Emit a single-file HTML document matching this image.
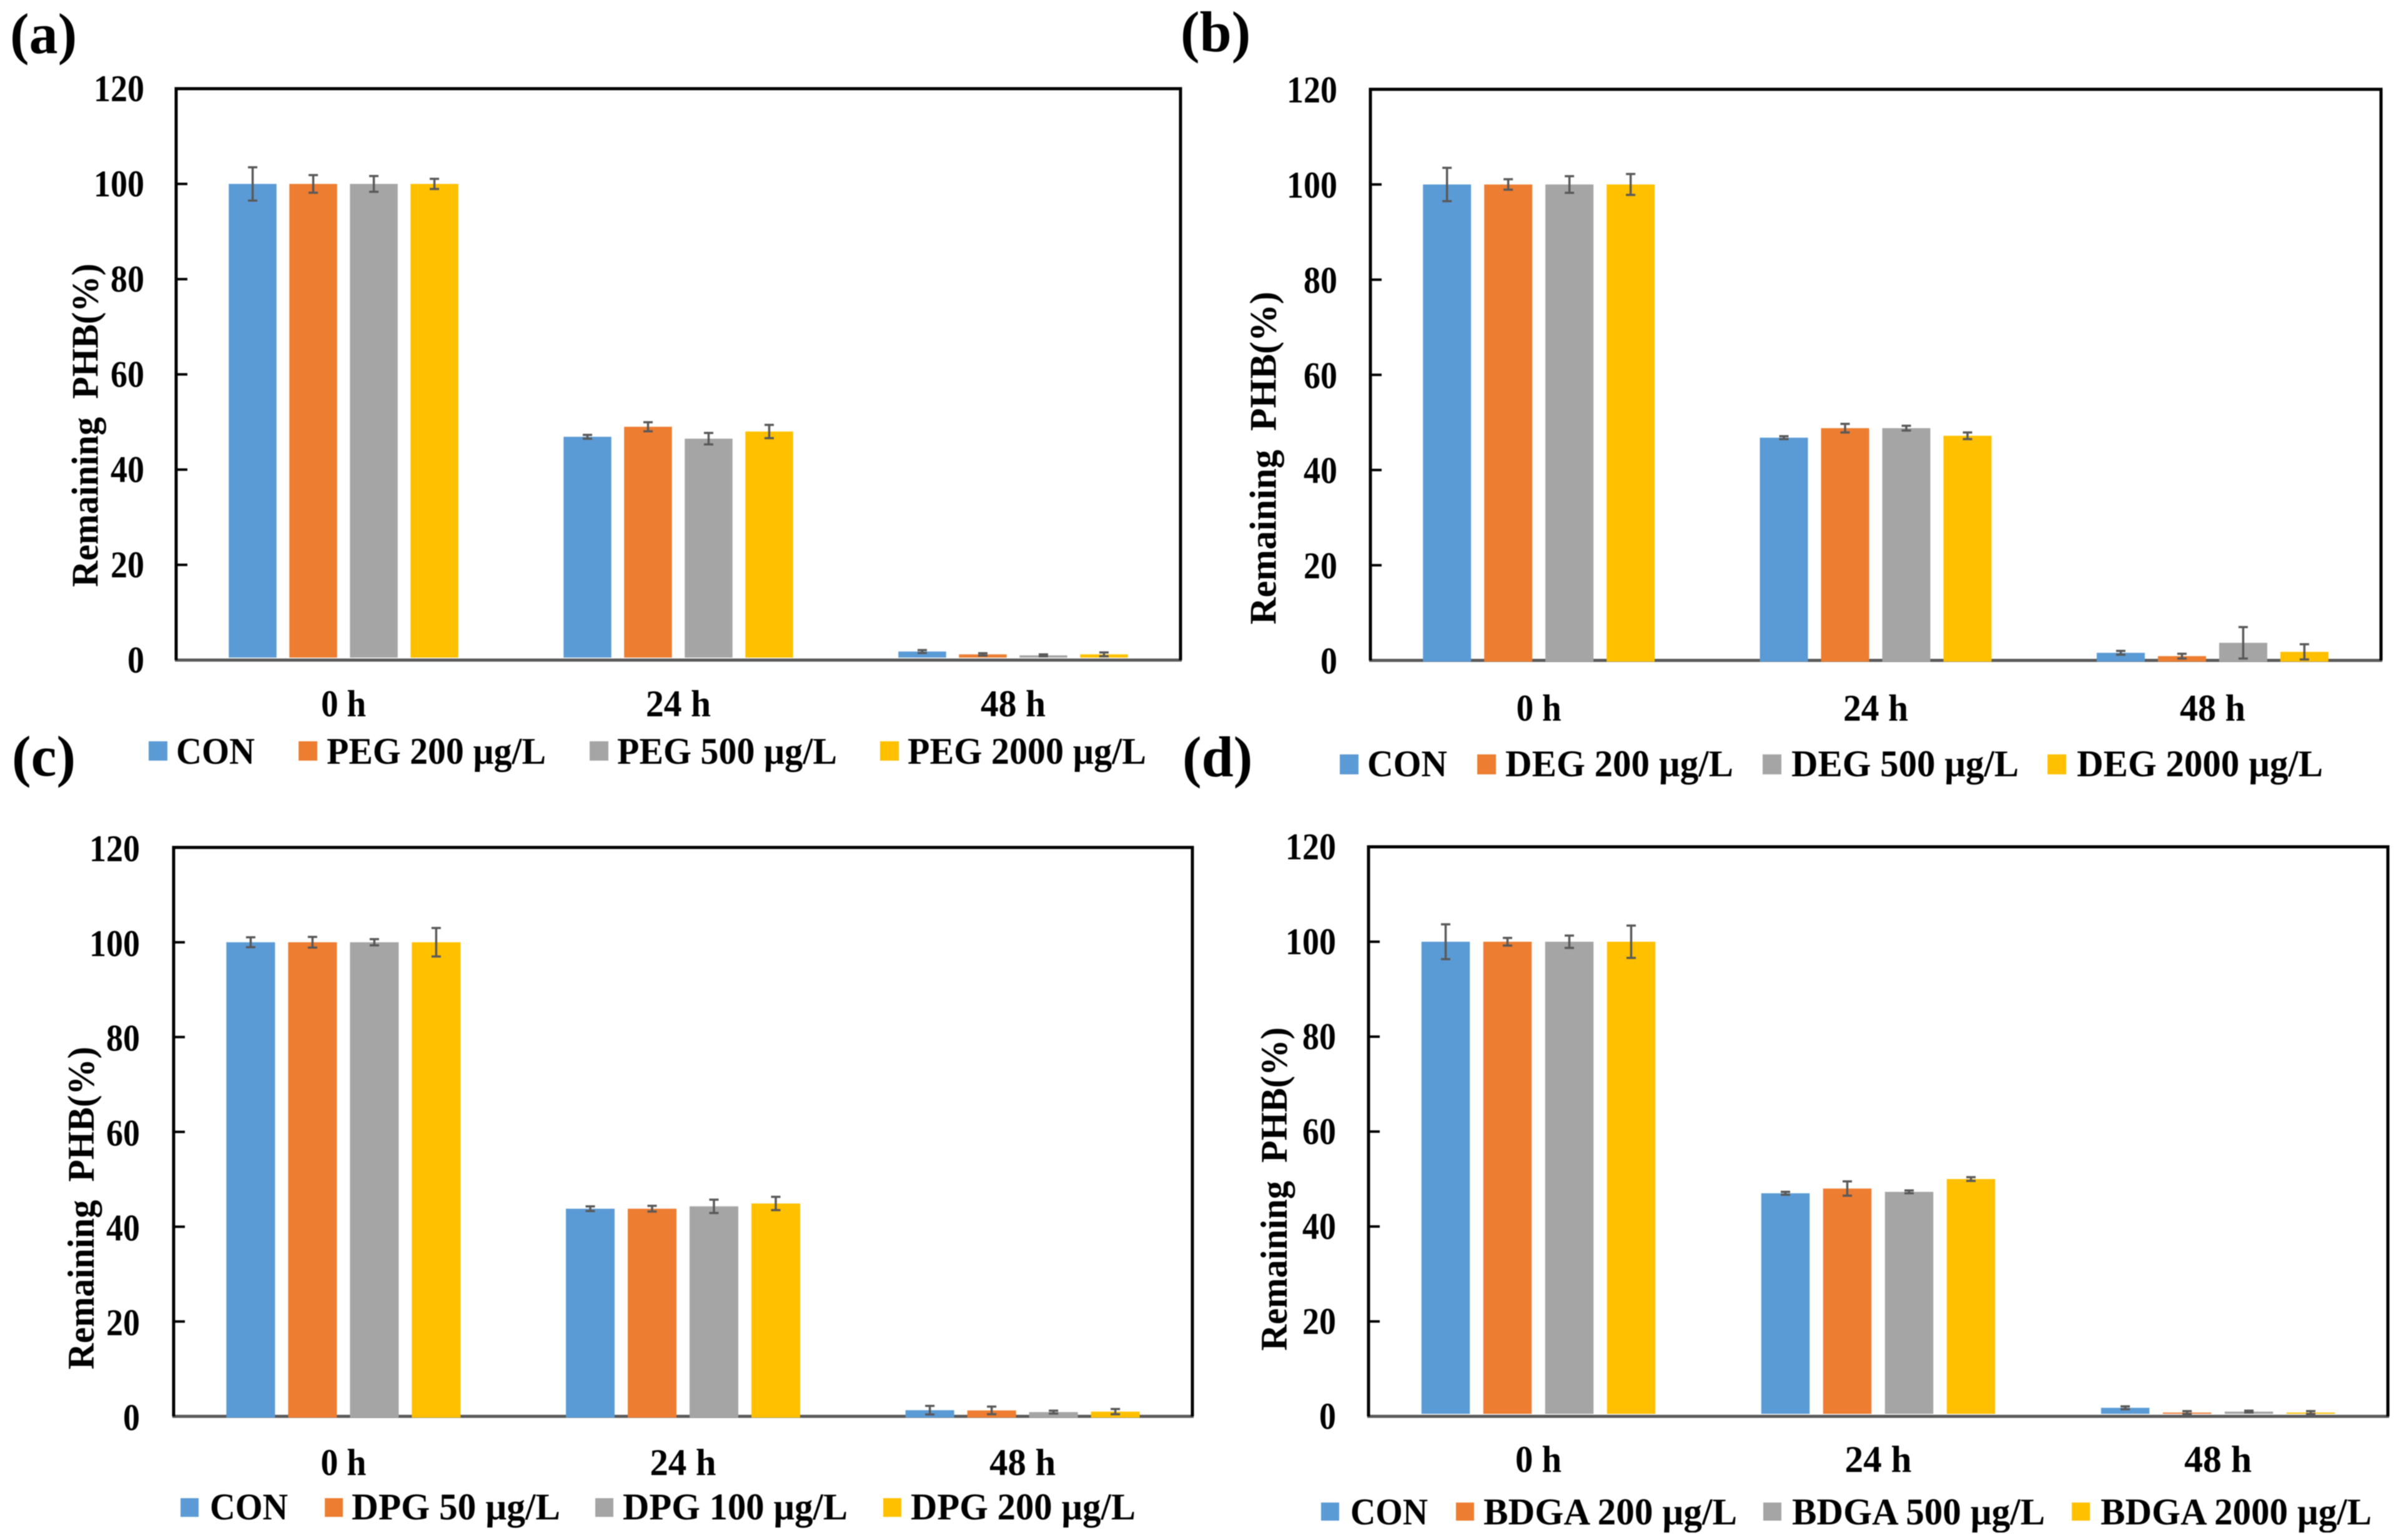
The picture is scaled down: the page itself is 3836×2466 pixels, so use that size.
<!DOCTYPE html>
<html lang="en">
<head>
<meta charset="utf-8">
<title>Remaining PHB over time</title>
<style>
html,body{margin:0;padding:0;background:#fff;width:3836px;height:2466px;overflow:hidden}
svg{display:block;filter:blur(0.9px)}
text{font-family:"Liberation Serif","DejaVu Serif",serif;font-weight:bold;fill:#000}
</style>
</head>
<body>
<svg id="figure" xmlns="http://www.w3.org/2000/svg" width="3836" height="2466" viewBox="0 0 3836 2466"></svg>
<script>
// ---- Data ----
const timeLabels = ['0 h', '24 h', '48 h'];
const yTickValues = [0, 20, 40, 60, 80, 100, 120];
const yAxisTitle = 'Remaining\u00a0 PHB(%)';

const seriesA = ['CON', 'PEG 200 µg/L', 'PEG 500 µg/L', 'PEG 2000 µg/L'];
const valuesA = [[100, 46.9, 1.8], [100, 49, 1.2], [100, 46.5, 1], [100, 48, 1.2]];
const errorsA = [[3.5, 0.4, 0.3], [1.85, 0.95, 0.25], [1.65, 1.2, 0.2], [1.07, 1.4, 0.4]];

const seriesB = ['CON', 'DEG 200 µg/L', 'DEG 500 µg/L', 'DEG 2000 µg/L'];
const valuesB = [[100, 46.8, 1.6], [100, 48.8, 0.9], [100, 48.8, 3.7], [100, 47.2, 1.8]];
const errorsB = [[3.5, 0.3, 0.4], [1.1, 0.9, 0.5], [1.75, 0.5, 3.3], [2.2, 0.7, 1.6]];

const seriesC = ['CON', 'DPG 50 µg/L', 'DPG 100 µg/L', 'DPG 200 µg/L'];
const valuesC = [[100, 43.8, 1.3], [100, 43.8, 1.25], [100, 44.3, 0.9], [100, 44.9, 1]];
const errorsC = [[1.05, 0.5, 0.9], [1.13, 0.6, 0.8], [0.65, 1.4, 0.3], [3, 1.4, 0.55]];

const seriesD = ['CON', 'BDGA 200 µg/L', 'BDGA 500 µg/L', 'BDGA 2000 µg/L'];
const valuesD = [[100, 47, 1.8], [100, 48, 0.8], [100, 47.3, 1], [100, 50, 0.8]];
const errorsD = [[3.67, 0.3, 0.3], [0.8, 1.5, 0.3], [1.3, 0.3, 0.2], [3.4, 0.4, 0.3]];

const seriesColors = ['#5B9BD5', '#ED7D31', '#A5A5A5', '#FFC000'];

// ---- Layout (geometry only) ----
const panelLayouts = [
  {id: 'a', tag: '(a)', tagX: 16, tagY: 85, x0: 282, x1: 1890, yTop: 142, yZero: 1057, barW: 76.5, pitch: 97, baseOff: -4,
   tickRight: 231, tickDy: 20, xBase: 1147, xW: [72, 104, 104],
   titleX: 156.5, titleY: 940, titleW: 518,
   names: seriesA, vals: valuesA, errs: errorsA,
   swX: [238, 478, 944, 1409], swW: 30, swY: 1187, swH: 31,
   txX: [282, 523, 988, 1453], txW: [126, 351, 352, 382], txY: 1223},
  {id: 'b', tag: '(b)', tagX: 1890, tagY: 82, x0: 2194, x1: 3812, yTop: 143, yZero: 1057.5, barW: 77, pitch: 98, baseOff: 2,
   tickRight: 2141, tickDy: 21, xBase: 1154, xW: [72, 104, 105],
   titleX: 2042.5, titleY: 1000, titleW: 533,
   names: seriesB, vals: valuesB, errs: errorsB,
   swX: [2145, 2365, 2822, 3278], swW: 30, swY: 1208, swH: 32,
   txX: [2189, 2410, 2868, 3325], txW: [128, 365, 364, 394], txY: 1243},
  {id: 'c', tag: '(c)', tagX: 19, tagY: 1242, x0: 278, x1: 1909, yTop: 1357, yZero: 2268, barW: 78, pitch: 99, baseOff: 2,
   tickRight: 224, tickDy: 22, xBase: 2362, xW: [73, 106, 106],
   titleX: 150, titleY: 2193, titleW: 517,
   names: seriesC, vals: valuesC, errs: errorsC,
   swX: [289, 520, 953, 1414], swW: 29, swY: 2399, swH: 30,
   txX: [336, 563, 997, 1458], txW: [125, 334, 360, 360], txY: 2433},
  {id: 'd', tag: '(d)', tagX: 1893, tagY: 1243, x0: 2191, x1: 3823, yTop: 1356, yZero: 2268, barW: 77.5, pitch: 99, baseOff: -4,
   tickRight: 2139, tickDy: 20, xBase: 2357, xW: [74, 107, 108],
   titleX: 2060, titleY: 2163, titleW: 518,
   names: seriesD, vals: valuesD, errs: errorsD,
   swX: [2115, 2331, 2823, 3317], swW: 29, swY: 2406, swH: 29,
   txX: [2162, 2375, 2869, 3363], txW: [124, 406, 405, 434], txY: 2441}
];

const SVGNS = 'http://www.w3.org/2000/svg';
const figure = document.getElementById('figure');

function mk(tag, parent, attrs) {
  const node = document.createElementNS(SVGNS, tag);
  for (const k in attrs) node.setAttribute(k, attrs[k]);
  parent.appendChild(node);
  return node;
}
function mkText(parent, str, x, y, size, len) {
  const t = mk('text', parent, {x: x, y: y, 'font-size': size});
  if (len) {
    t.setAttribute('textLength', len);
    t.setAttribute('lengthAdjust', 'spacingAndGlyphs');
  }
  t.textContent = str;
  return t;
}

panelLayouts.forEach(function (p) {
  const yScale = function (v) { return p.yZero - (v / 120) * (p.yZero - p.yTop); };
  const groupW = (p.x1 - p.x0) / timeLabels.length;
  const xCenter = function (i) { return p.x0 + groupW * (i + 0.5); };
  const barCenter = function (g, s) { return xCenter(g) + (s - 1.5) * p.pitch; };

  const panel = mk('g', figure, {});
  
  

  const tag = mkText(panel, p.tag, p.tagX, p.tagY, 92);
  
  

  const bottom = mk('line', panel, {x1: p.x0 - 2, x2: p.x1 + 2, y1: p.yZero, y2: p.yZero, stroke: '#5a5a5a', 'stroke-width': 5});
  
  

  const frame = mk('path', panel, {d: 'M' + p.x0 + ' ' + p.yZero + 'V' + p.yTop + 'H' + p.x1 + 'V' + p.yZero, fill: 'none', stroke: '#000', 'stroke-width': 5});
  
  

  yTickValues.forEach(function (v) {
    const y = yScale(v);
    if (v > 0 && v < 120) {
      const tick = mk('line', panel, {x1: p.x0, x2: p.x0 + 18, y1: y, y2: y, stroke: '#000', 'stroke-width': 4});
      
      
    }
    const s = String(v);
    const w = s.length * 27;
    const label = mkText(panel, s, p.tickRight - w, y + p.tickDy, 60, w);
    
    
  });

  const title = mkText(panel, yAxisTitle, 0, 0, 60, p.titleW);
  title.setAttribute('transform', 'translate(' + p.titleX + ' ' + p.titleY + ') rotate(-90)');
  
  

  timeLabels.forEach(function (lab, i) {
    const w = p.xW[i];
    const t = mkText(panel, lab, xCenter(i) - w / 2, p.xBase, 60, w);
    
    
  });

  p.vals.forEach(function (vals, s) {
    vals.forEach(function (v, g) {
      const cx = barCenter(g, s);
      const top = yScale(v);
      const bar = mk('rect', panel, {x: cx - p.barW / 2, y: top, width: p.barW, height: p.yZero + p.baseOff - top, fill: seriesColors[s]});
      
      
    });
  });

  p.errs.forEach(function (errs, s) {
    errs.forEach(function (e, g) {
      const cx = barCenter(g, s);
      const v = p.vals[s][g];
      const hi = yScale(v + e);
      const lo = yScale(v - e);
      const err = mk('path', panel, {
        d: 'M' + cx + ' ' + hi + 'V' + lo + 'M' + (cx - 7.5) + ' ' + hi + 'H' + (cx + 7.5) + 'M' + (cx - 7.5) + ' ' + lo + 'H' + (cx + 7.5),
        fill: 'none', stroke: '#595959', 'stroke-width': 3.5
      });
      
      
    });
  });

  const legend = mk('g', panel, {});
  
  
  p.names.forEach(function (name, s) {
    const sw = mk('rect', legend, {x: p.swX[s], y: p.swY, width: p.swW, height: p.swH, fill: seriesColors[s]});
    
    
    const t = mkText(legend, name, p.txX[s], p.txY, 60, p.txW[s]);
    
    
  });
});
</script>
</body>
</html>
